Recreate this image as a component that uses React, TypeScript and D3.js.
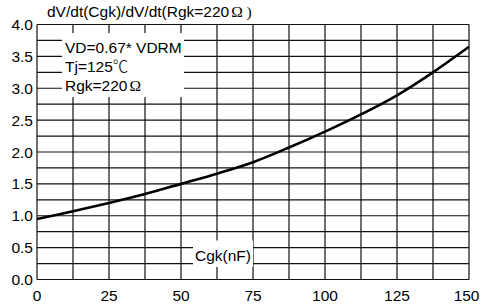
import React, { useEffect, useRef } from "react";
import * as d3 from "d3";

// curve, Cgk (nF) vs ratio
const cgk = [0, 12.5, 25, 37.5, 50, 62.5, 75, 87.5, 100, 112.5, 125, 137.5, 150];
const ratio = [0.95, 1.07, 1.2, 1.34, 1.5, 1.66, 1.84, 2.07, 2.32, 2.59, 2.89, 3.25, 3.65];

const xTicks = [0, 25, 50, 75, 100, 125, 150];
const yTicks = [0, 0.5, 1, 1.5, 2, 2.5, 3, 3.5, 4];
const notes = ["VD=0.67* VDRM", "Tj=125", "Rgk=220"];

const App = () => {
  const chartRef = useRef<SVGSVGElement | null>(null);

  useEffect(() => {
    const W = 480;
    const H = 306;
    const margin = { top: 24.5, right: 11, bottom: 26.5, left: 37 };
    const font = "'Liberation Sans', Arial, sans-serif";
    const fs = "15.5px";

    const svg = d3.select(chartRef.current);
    svg.selectAll("*").remove();

    const x = d3.scaleLinear().domain([0, 150]).range([margin.left, W - margin.right]);
    const y = d3.scaleLinear().domain([0, 4]).range([H - margin.bottom, margin.top]);

    const g = svg.append("g");

    // grid (every 12.5 on x, 0.25 on y)
    const xGrid = d3.range(0, 150.01, 12.5);
    const yGrid = d3.range(0, 4.01, 0.25);

    g.selectAll(".vg")
      .data(xGrid)
      .join("line")
      .attr("x1", (d) => x(d))
      .attr("x2", (d) => x(d))
      .attr("y1", y(0))
      .attr("y2", y(4))
      .attr("stroke", "#111")
      .attr("stroke-width", 1.2);

    g.selectAll(".hg")
      .data(yGrid)
      .join("line")
      .attr("x1", x(0))
      .attr("x2", x(150))
      .attr("y1", (d) => y(d))
      .attr("y2", (d) => y(d))
      .attr("stroke", "#111")
      .attr("stroke-width", 1.2);

    // white boxes behind the notes
    g.append("rect")
      .attr("x", 62)
      .attr("y", 33)
      .attr("width", 122)
      .attr("height", 64)
      .attr("fill", "#fff");

    g.append("rect")
      .attr("x", 193)
      .attr("y", 240.5)
      .attr("width", 60)
      .attr("height", 26.5)
      .attr("fill", "#fff");

    // curve
    const line = d3
      .line<number>()
      .x((d, i) => x(cgk[i]))
      .y((d) => y(d))
      .curve(d3.curveCatmullRom);

    g.append("path")
      .datum(ratio)
      .attr("fill", "none")
      .attr("stroke", "#000")
      .attr("stroke-width", 2.6)
      .attr("d", line);

    // tick labels
    g.selectAll(".yl")
      .data(yTicks)
      .join("text")
      .attr("x", margin.left - 4)
      .attr("y", (d) => y(d))
      .attr("dy", "0.36em")
      .attr("text-anchor", "end")
      .style("font", `${fs} ${font}`)
      .text((d) => d.toFixed(1));

    g.selectAll(".xl")
      .data(xTicks)
      .join("text")
      .attr("x", (d, i) => (i === xTicks.length - 1 ? W - 0.5 : x(d)))
      .attr("y", 301)
      .attr("text-anchor", (d, i) => (i === xTicks.length - 1 ? "end" : "middle"))
      .style("font", `${fs} ${font}`)
      .text((d) => d);

    // title
    const title = g
      .append("text")
      .attr("x", 47)
      .attr("y", 17)
      .style("font", `${fs} ${font}`)
      .text("dV/dt(Cgk)/dV/dt(Rgk=220");
    title
      .append("tspan")
      .attr("dx", 2)
      .style("font-family", "'Liberation Serif', serif")
      .style("font-weight", 300)
      .text("Ω )");

    // notes
    const noteY = [53, 72, 91];
    notes.forEach((t, i) => {
      const txt = g
        .append("text")
        .attr("x", 65)
        .attr("y", noteY[i])
        .style("font", `${fs} ${font}`)
        .text(t);
      if (i === 1)
        txt
          .append("tspan")
          .style("font-family", "'Noto Sans CJK SC'")
          .style("font-weight", 300)
          .text("℃");
      if (i === 2)
        txt
          .append("tspan")
          .attr("dx", 2)
          .style("font-family", "'Liberation Serif', serif")
          .text("Ω");
    });

    g.append("text")
      .attr("x", 195)
      .attr("y", 260.5)
      .style("font", `${fs} ${font}`)
      .text("Cgk(nF)");
  }, []);

  return (
    <svg
      ref={chartRef}
      width={480}
      height={306}
      style={{ position: "absolute", left: 0, top: 0, background: "#fff" }}
    />
  );
};

export default App;
